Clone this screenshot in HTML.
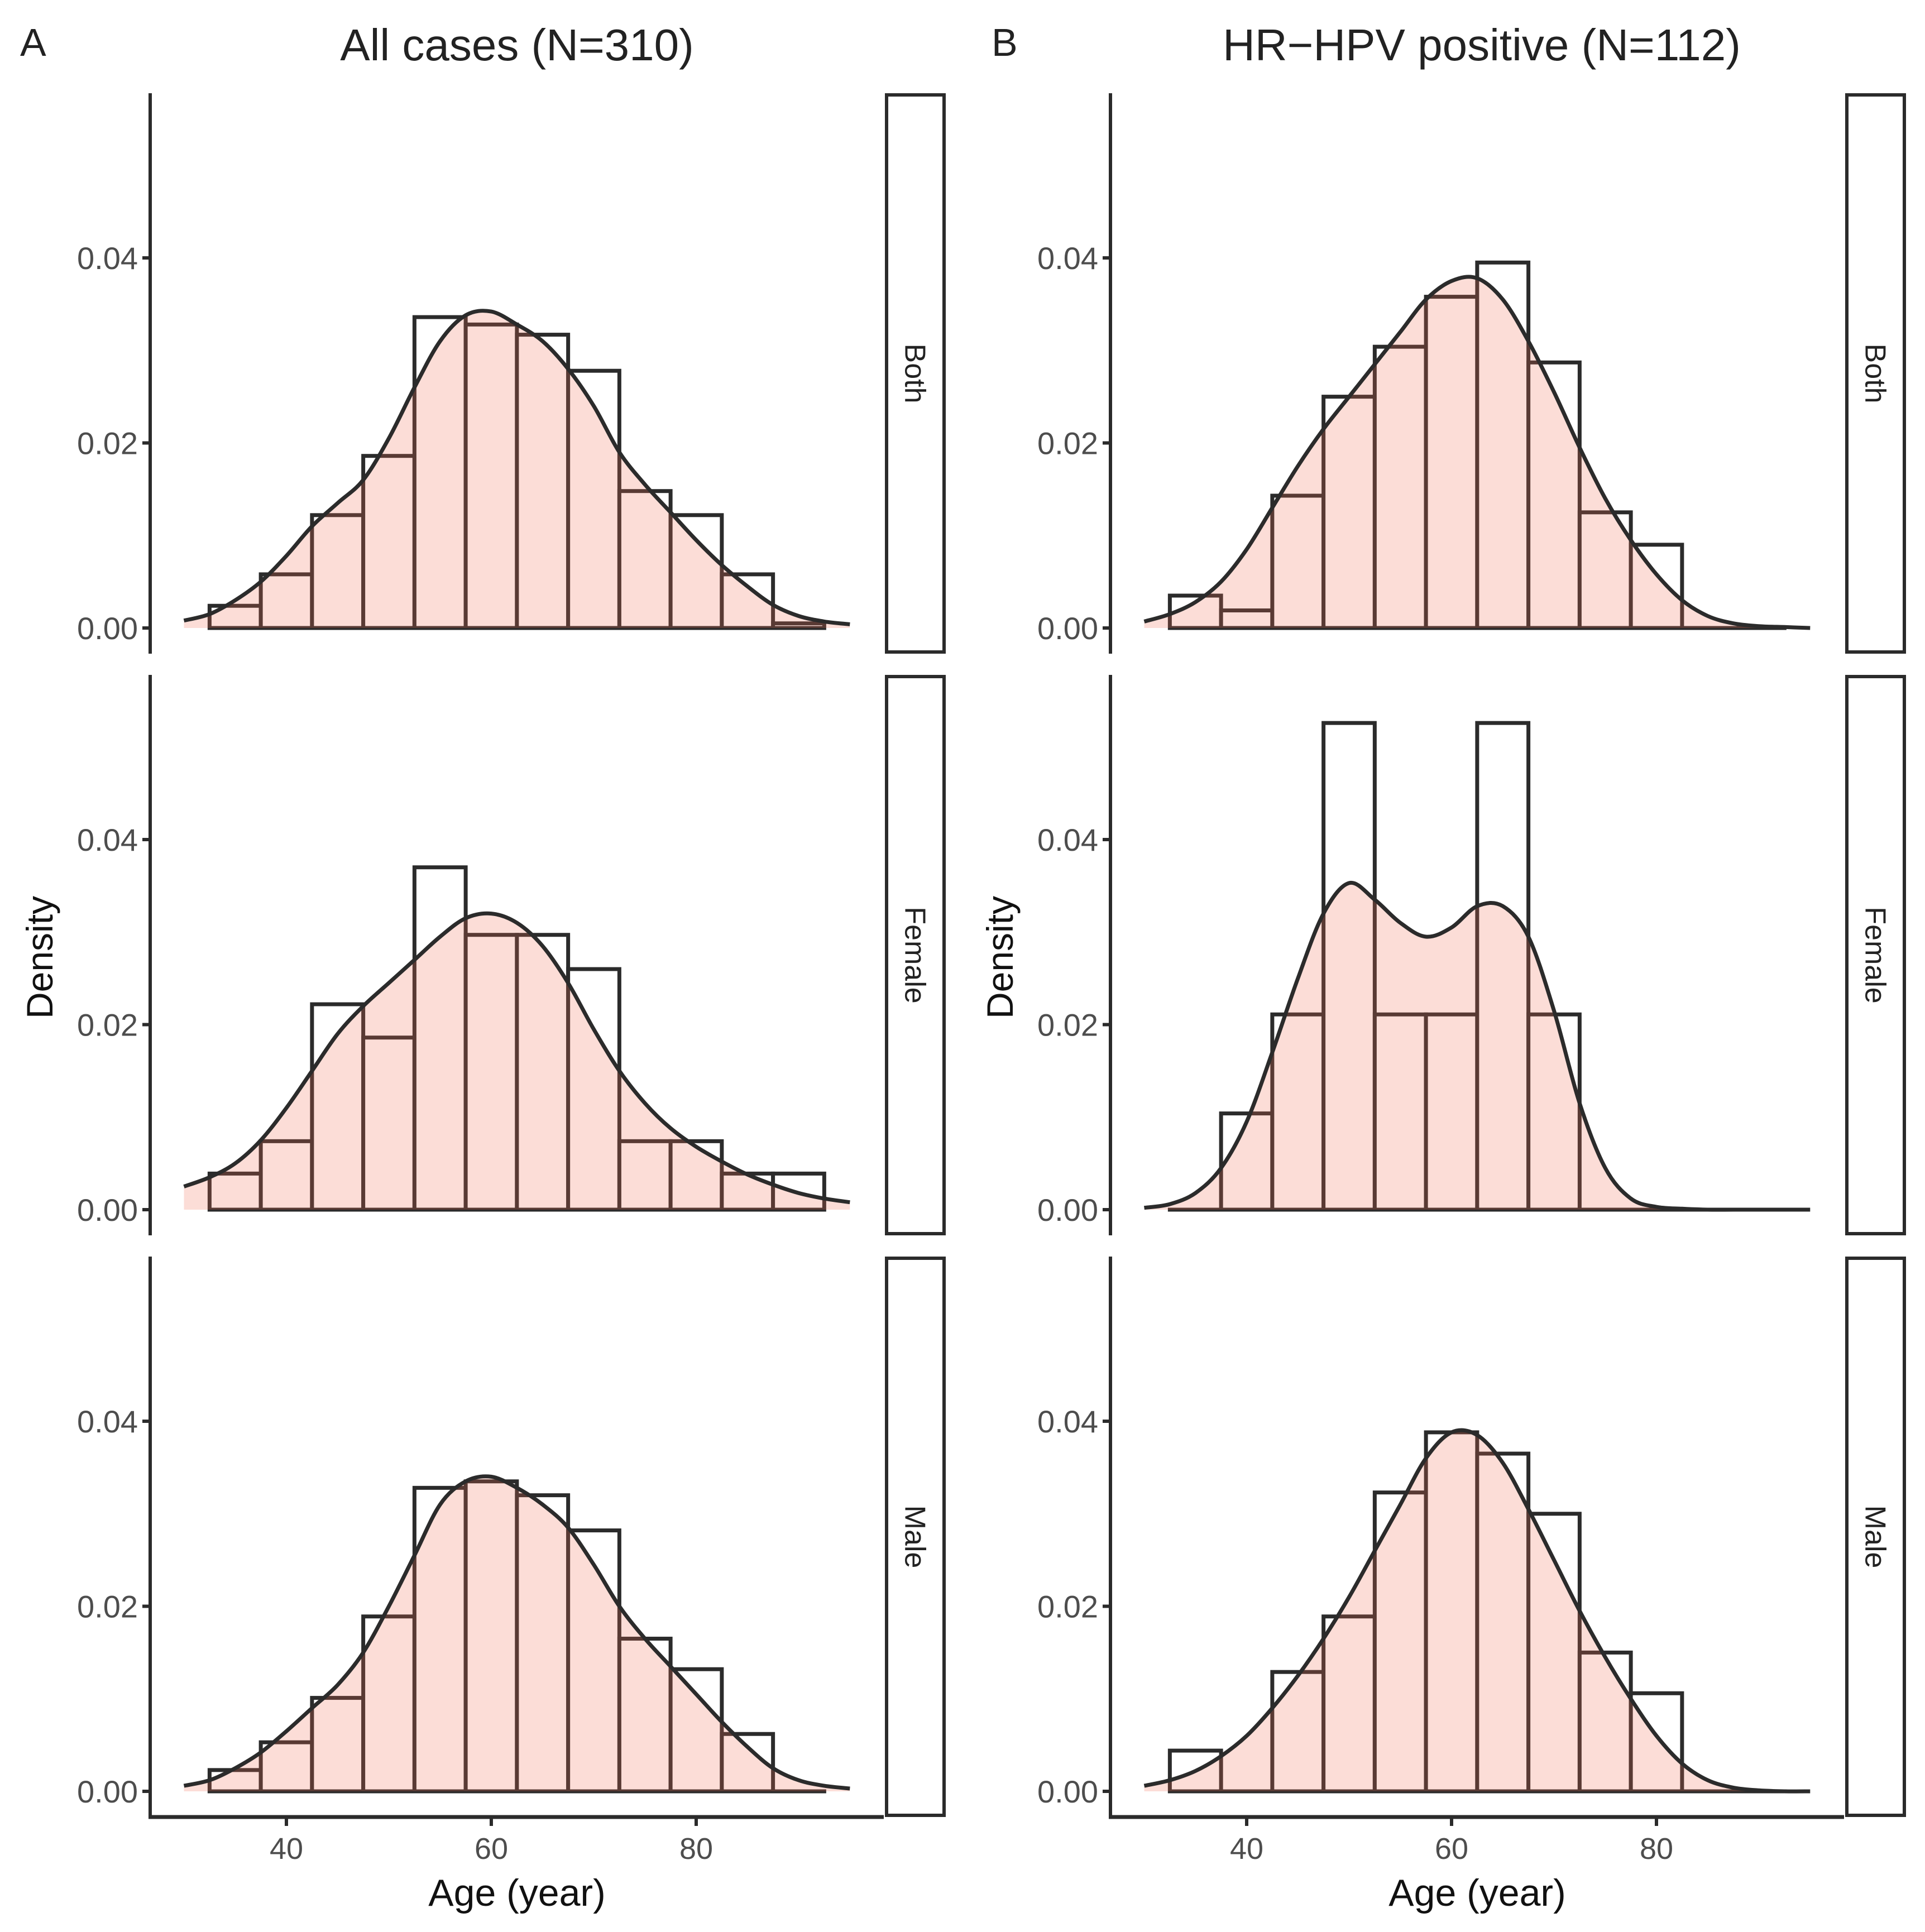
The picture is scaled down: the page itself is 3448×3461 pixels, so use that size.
<!DOCTYPE html>
<html><head><meta charset="utf-8">
<style>
html,body{margin:0;padding:0;background:#fff;}
svg{display:block;font-family:"Liberation Sans",sans-serif;}
</style></head>
<body>
<svg id="fig" width="3448" height="3461" viewBox="0 0 3448 3461" xmlns="http://www.w3.org/2000/svg"></svg>
<script>
// ---- data ----
const binStarts = [32.5,37.5,42.5,47.5,52.5,57.5,62.5,67.5,72.5,77.5,82.5,87.5];
const binWidth = 5;
const densX = [30,32.5,35,37.5,40,42.5,45,47.5,50,52.5,55,57.5,60,62.5,65,67.5,70,72.5,75,77.5,80,82.5,85,87.5,90,92.5,95];
const xTicks = [40,60,80];
const yTicks = [0,0.02,0.04];
const yTickLabels = ["0.00","0.02","0.04"];
const rowLabels = ["Both","Female","Male"];
const colTitles = ["All cases (N=310)","HR\u2212HPV positive (N=112)"];
const colLetters = ["A","B"];

const histA_Both   = [0.0024,0.0058,0.0122,0.0186,0.0336,0.0328,0.0317,0.0278,0.0148,0.0122,0.0058,0.0005];
const histA_Female = [0.0039,0.0074,0.0222,0.0186,0.0370,0.0297,0.0297,0.0260,0.0074,0.0074,0.0039,0.0039];
const histA_Male   = [0.0023,0.0053,0.0101,0.0189,0.0328,0.0335,0.0320,0.0282,0.0165,0.0132,0.0062,0.0000];
const histB_Both   = [0.0035,0.0019,0.0143,0.0250,0.0304,0.0358,0.0395,0.0287,0.0125,0.0090,0,0];
const histB_Female = [0,0.0104,0.0211,0.0526,0.0211,0.0211,0.0526,0.0211,0,0,0,0];
const histB_Male   = [0.0044,0,0.0129,0.0189,0.0323,0.0388,0.0365,0.0300,0.0150,0.0106,0,0];

const densA_Both   = [0.0008,0.0015,0.003,0.005,0.0078,0.011,0.0135,0.016,0.0205,0.026,0.031,0.0338,0.0342,0.0328,0.031,0.028,0.024,0.019,0.0155,0.0125,0.0095,0.0068,0.0045,0.0025,0.0013,0.0007,0.0004];
const densA_Female = [0.0025,0.0035,0.005,0.0075,0.011,0.015,0.019,0.022,0.0245,0.027,0.0295,0.0315,0.032,0.031,0.0285,0.0245,0.0195,0.015,0.0115,0.0088,0.0068,0.0052,0.0038,0.0027,0.0018,0.0012,0.0008];
const densA_Male   = [0.0006,0.0012,0.0025,0.0042,0.0065,0.009,0.0115,0.015,0.02,0.0255,0.031,0.0335,0.034,0.0328,0.031,0.0285,0.0245,0.02,0.0165,0.0135,0.0105,0.0075,0.0048,0.0025,0.0012,0.0006,0.0003];
const densB_Both   = [0.0007,0.0015,0.0028,0.005,0.0085,0.013,0.0175,0.0215,0.025,0.0285,0.032,0.0355,0.0375,0.0378,0.0355,0.031,0.0255,0.0195,0.014,0.0095,0.0058,0.003,0.0013,0.0005,0.0002,0.0001,0];
const densB_Female = [0.0002,0.0006,0.0018,0.0045,0.0095,0.017,0.025,0.032,0.0353,0.0335,0.031,0.0295,0.0305,0.0328,0.0328,0.0295,0.0215,0.0115,0.0045,0.0012,0.0003,0.0001,0,0,0,0,0];
const densB_Male   = [0.0006,0.0012,0.0022,0.0038,0.006,0.009,0.0125,0.0165,0.021,0.026,0.031,0.036,0.0388,0.0385,0.0355,0.0305,0.025,0.0195,0.0145,0.01,0.006,0.003,0.0012,0.0004,0.0001,0,0];

const hists = [[histA_Both,histA_Female,histA_Male],[histB_Both,histB_Female,histB_Male]];
const dens  = [[densA_Both,densA_Female,densA_Male],[densB_Both,densB_Female,densB_Male]];

// ---- layout ----
const NS="http://www.w3.org/2000/svg";
const svg=document.getElementById('fig');
const colOff=[0,1720];
const rowTop=[167,1209,2251];
const panelH=1004;
const axisX=269, panelR=1583;
const stripL=1588, stripW=103;
const ink="#2b2b2b";
function el(tag,attrs,parent){const e=document.createElementNS(NS,tag);for(const k in attrs)e.setAttribute(k,attrs[k]);(parent||svg).appendChild(e);return e;}
function xScale(col,v){return 513+colOff[col]+(v-40)*18.35;}
function yScale(row,v){return rowTop[row]+958-v*16575;}
function smoothPath(pts){
  let d="M"+pts[0][0].toFixed(1)+","+pts[0][1].toFixed(1);
  for(let i=0;i<pts.length-1;i++){
    const p0=pts[Math.max(0,i-1)],p1=pts[i],p2=pts[i+1],p3=pts[Math.min(pts.length-1,i+2)];
    const c1x=p1[0]+(p2[0]-p0[0])/6,c1y=p1[1]+(p2[1]-p0[1])/6;
    const c2x=p2[0]-(p3[0]-p1[0])/6,c2y=p2[1]-(p3[1]-p1[1])/6;
    d+=" C"+c1x.toFixed(1)+","+c1y.toFixed(1)+" "+c2x.toFixed(1)+","+c2y.toFixed(1)+" "+p2[0].toFixed(1)+","+p2[1].toFixed(1);
  }
  return d;
}

for(let c=0;c<2;c++){
  const ox=colOff[c];
  const letter=el('text',{x:36+ox+(c?20:0),y:100,'font-size':70,fill:'#222'});
  letter.textContent=colLetters[c];
  
  
  const t=el('text',{x:(axisX+panelR)/2+ox+(c?8:0),y:108,'font-size':80,fill:'#222','text-anchor':'middle'});
  t.textContent=colTitles[c];
  
  
  const yl=el('text',{x:0,y:0,'font-size':66,fill:'#111','text-anchor':'middle',transform:`translate(${94+ox},${1715}) rotate(-90)`});
  yl.textContent="Density";
  
  

  for(let r=0;r<3;r++){
    const g=el('g',{});
    
    
    const H=hists[c][r], D=dens[c][r];
    for(let i=0;i<binStarts.length;i++){
      const x0=xScale(c,binStarts[i]), x1=xScale(c,binStarts[i]+binWidth);
      const y0=yScale(r,0), y1=yScale(r,H[i]);
      const b=el('rect',{x:x0,y:y1,width:x1-x0,height:Math.max(0.01,y0-y1),fill:'#fff',stroke:ink,'stroke-width':7},g);
      
      
    }
    const pts=densX.map((v,i)=>[xScale(c,v),yScale(r,D[i])]);
    const line=smoothPath(pts);
    const f=el('path',{d:line+` L${pts[pts.length-1][0]},${yScale(r,0)} L${pts[0][0]},${yScale(r,0)} Z`,fill:'rgba(242,110,80,0.23)',stroke:'none'},g);
    
    
    const l=el('path',{d:line,fill:'none',stroke:ink,'stroke-width':7},g);
    
    
    const top=rowTop[r], bot=top+panelH;
    const ax=el('line',{x1:axisX+ox,y1:top,x2:axisX+ox,y2:bot,stroke:ink,'stroke-width':6},g);
    
    
    for(let k=0;k<yTicks.length;k++){
      const y=yScale(r,yTicks[k]);
      el('line',{x1:axisX+ox-14,y1:y,x2:axisX+ox,y2:y,stroke:ink,'stroke-width':6},g);
      const tl=el('text',{x:axisX+ox-22,y:y+20,'font-size':56,fill:'#4d4d4d','text-anchor':'end'},g);
      tl.textContent=yTickLabels[k];
      
      
    }
    const s=el('rect',{x:stripL+ox,y:top+3,width:stripW,height:panelH-6,fill:'#fff',stroke:ink,'stroke-width':6},g);
    
    
    const st=el('text',{x:0,y:0,'font-size':52,fill:'#222','text-anchor':'middle',transform:`translate(${stripL+ox+stripW/2-18},${top+panelH/2}) rotate(90)`},g);
    st.textContent=rowLabels[r];
    
    
  }
  const by=3255;
  const xa=el('line',{x1:axisX+ox-3,y1:by,x2:panelR+ox,y2:by,stroke:ink,'stroke-width':7});
  
  
  for(let k=0;k<xTicks.length;k++){
    const x=xScale(c,xTicks[k]);
    el('line',{x1:x,y1:by,x2:x,y2:by+16,stroke:ink,'stroke-width':6});
    const tl=el('text',{x:x,y:3330,'font-size':54,fill:'#4d4d4d','text-anchor':'middle'});
    tl.textContent=xTicks[k];
    
    
  }
  const xt=el('text',{x:(axisX+panelR)/2+ox,y:3414,'font-size':68,fill:'#111','text-anchor':'middle'});
  xt.textContent="Age (year)";
  
  
}
</script>
</body></html>
